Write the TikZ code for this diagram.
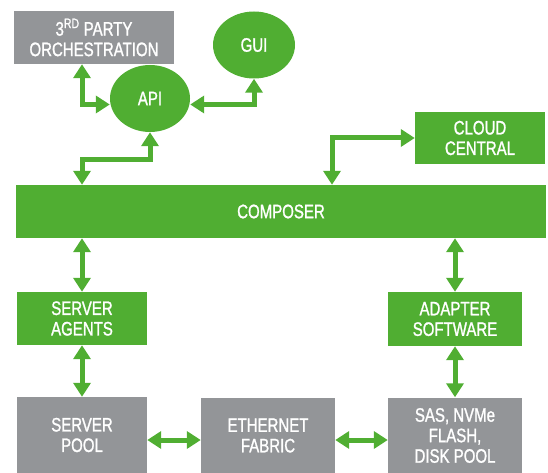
\documentclass[tikz,border=0pt]{standalone}
\usepackage{fontspec}
\setmainfont[FakeStretch=0.77,FakeBold=1.2]{Liberation Sans}
\usetikzlibrary{arrows.meta,shapes.geometric}
\definecolor{grn}{RGB}{80,174,50}
\definecolor{gry}{RGB}{147,149,152}
\tikzset{
  base/.style={inner sep=0pt, text=white, align=center, font=\fontsize{19.5}{20.5}\selectfont},
  gbox/.style={base, rectangle, fill=grn},
  ybox/.style={base, rectangle, fill=gry},
  gell/.style={base, ellipse, fill=grn},
  biarrow/.style={draw=grn, line width=5pt,
    {Triangle[width=17pt,length=14pt]}-{Triangle[width=17pt,length=14pt]}},
}
\begin{document}
\begin{tikzpicture}[x=1pt,y=-1pt]
\useasboundingbox (0,0) rectangle (548,473);
\node[ybox, minimum width=160pt, minimum height=53pt] (party) at (94,37.5) {3\textsuperscript{RD} PARTY\\ORCHESTRATION};
\node[gell, minimum width=82pt, minimum height=67pt] (gui) at (254,45) {GUI};
\node[gell, minimum width=80pt, minimum height=67pt] (api) at (150,98.5) {API};
\node[gbox, minimum width=130pt, minimum height=52pt] (cloud) at (480,138) {CLOUD\\CENTRAL};
\node[gbox, minimum width=530pt, minimum height=53pt] (composer) at (281,211.5) {COMPOSER};
\node[gbox, minimum width=130pt, minimum height=53pt] (agents) at (82,318.5) {SERVER\\AGENTS};
\node[gbox, minimum width=134pt, minimum height=54pt] (adapter) at (455,319) {ADAPTER\\SOFTWARE};
\node[ybox, minimum width=130pt, minimum height=76pt] (pool) at (82,435) {SERVER\\POOL};
\node[ybox, minimum width=134pt, minimum height=76pt] (ethernet) at (268,435.5) {ETHERNET\\FABRIC};
\node[ybox, minimum width=134pt, minimum height=76pt] (sas) at (455,435.5) {SAS, NVMe\\FLASH,\\DISK POOL};

\draw[biarrow] (party.south -| 82,0) |- ([yshift=-6pt]api.west);
\draw[biarrow] ([yshift=-6pt]api.east) -| (gui.south);
\draw[biarrow] (api.south) -- (api.south |- 0,160) -| (composer.north -| agents.north);
\draw[biarrow] (cloud.west) -| (composer.north -| 332,0);
\draw[biarrow] (composer.south -| agents.north) -- (agents.north);
\draw[biarrow] (composer.south -| adapter.north) -- (adapter.north);
\draw[biarrow] (agents.south) -- (agents.south |- pool.north);
\draw[biarrow] (adapter.south) -- (sas.north);
\draw[biarrow] (pool.east |- 0,440) -- (ethernet.west |- 0,440);
\draw[biarrow] (ethernet.east |- 0,440) -- (sas.west |- 0,440);
\end{tikzpicture}
\end{document}
